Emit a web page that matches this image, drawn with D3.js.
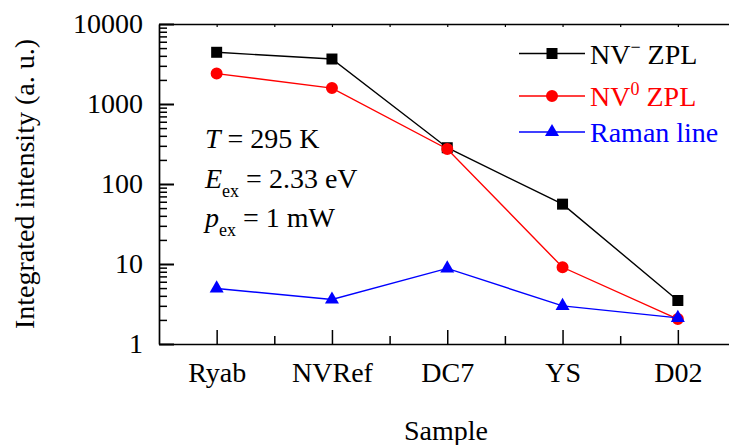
<!DOCTYPE html>
<html>
<head>
<meta charset="utf-8">
<script src="https://cdn.jsdelivr.net/npm/d3@7"></script>
<style>
  body { margin: 0; background: #fff; }
  svg { display: block; }
</style>
</head>
<body>
<div id="chart"></div>
<script>
const samples = ["Ryab", "NVRef", "DC7", "YS", "D02"];
const nvMinus = [4430, 3650, 284, 56, 3.5];
const nvZero = [2400, 1580, 274, 9.1, 2.05];
const raman = [4.95, 3.6, 8.8, 3.0, 2.12];
const yTicks = [1, 10, 100, 1000, 10000];

const FONT = "Liberation Serif, Tinos, Times New Roman, serif";
const FS = "28px";

const series = [
  { name: "NV", sup: "\u2212", rest: " ZPL", values: nvMinus, color: "#000000", symbol: d3.symbolSquare, size: 121 },
  { name: "NV", sup: "0", rest: " ZPL", values: nvZero, color: "#ff0000", symbol: d3.symbolCircle, size: 113 },
  { name: "Raman line", sup: "", rest: "", values: raman, color: "#0000ff", symbol: d3.symbolTriangle, size: 85 },
];

const W = 729, H = 445;
const plot = { left: 159, bottom: 344, top: 24 };
const step = 115.3;

const svg = d3.select("#chart").append("svg")
  .attr("width", W).attr("height", H);

const x = d3.scaleLinear().domain([0.5, 5.5]).range([plot.left, plot.left + 5 * step]);
const y = d3.scaleLog().domain([1, 10000]).range([plot.bottom, plot.top]);

// minor ticks
let minorY = [];
for (let p = 0; p < 4; p++) {
  for (let m = 2; m <= 9; m++) minorY.push(m * Math.pow(10, p));
}
const minorX = [1.5, 2.5, 3.5, 4.5];

// left axis
svg.append("g")
  .attr("transform", `translate(${plot.left},0)`)
  .call(d3.axisLeft(y).tickValues(minorY).tickSizeInner(-8).tickSizeOuter(0).tickFormat(""))
  .call(g => g.select(".domain").remove())
  .selectAll("line").attr("stroke-width", 1.5);

svg.append("g")
  .attr("transform", `translate(${plot.left},0)`)
  .call(d3.axisLeft(y).tickValues(yTicks).tickSizeInner(-15).tickSizeOuter(0)
    .tickPadding(16).tickFormat(d3.format("d")))
  .call(g => g.selectAll("line").attr("stroke-width", 2))
  .call(g => g.select(".domain").attr("stroke-width", 1.7));

// bottom axis
svg.append("g")
  .attr("transform", `translate(0,${plot.bottom})`)
  .call(d3.axisBottom(x).tickValues(minorX).tickSizeInner(-8).tickSizeOuter(0).tickFormat(""))
  .call(g => g.select(".domain").remove())
  .selectAll("line").attr("stroke-width", 1.5);

svg.append("g")
  .attr("transform", `translate(0,${plot.bottom})`)
  .call(d3.axisBottom(x).tickValues([1, 2, 3, 4, 5]).tickSizeInner(-14).tickSizeOuter(0)
    .tickPadding(18).tickFormat((d, i) => samples[i]))
  .call(g => g.selectAll("line").attr("stroke-width", 1.5))
  .call(g => g.select(".domain").attr("stroke-width", 1.7));

// top axis (mirror)
svg.append("g")
  .attr("transform", `translate(0,${plot.top})`)
  .call(d3.axisTop(x).tickValues([1, 1.5, 2, 2.5, 3, 3.5, 4, 4.5, 5]).tickSizeInner(-3)
    .tickSizeOuter(0).tickFormat(""))
  .call(g => g.selectAll("line").attr("stroke-width", 1.2))
  .call(g => g.select(".domain").attr("stroke-width", 1.7));

// axis titles
svg.append("text")
  .attr("transform", "translate(34,184) rotate(-90)")
  .attr("text-anchor", "middle")
  .text("Integrated intensity (a. u.)");

svg.append("text")
  .attr("x", 446).attr("y", 440)
  .attr("text-anchor", "middle")
  .text("Sample");

// series
const line = d3.line()
  .x((d, i) => x(i + 1))
  .y(d => y(d));

series.forEach(s => {
  svg.append("path")
    .datum(s.values)
    .attr("fill", "none")
    .attr("stroke", s.color)
    .attr("stroke-width", 1.4)
    .attr("d", line);
  svg.append("g").selectAll("path")
    .data(s.values)
    .join("path")
    .attr("transform", (d, i) => `translate(${x(i + 1)},${y(d)})`)
    .attr("d", d3.symbol().type(s.symbol).size(s.size))
    .attr("fill", s.color);
});

// legend
const legendY = [53.5, 96, 132];
series.forEach((s, i) => {
  const g = svg.append("g").attr("transform", `translate(0,${legendY[i]})`);
  g.append("line")
    .attr("x1", 519).attr("x2", 585)
    .attr("stroke", s.color).attr("stroke-width", 1.4);
  g.append("path")
    .attr("transform", "translate(552,0)")
    .attr("d", d3.symbol().type(s.symbol).size(s.size))
    .attr("fill", s.color);
  const t = g.append("text")
    .attr("x", 590).attr("y", 10)
    .attr("fill", s.color);
  t.append("tspan").text(s.name);
  if (s.sup) {
    t.append("tspan").attr("class", "small").attr("dy", -11).text(s.sup);
    t.append("tspan").attr("dy", 11).text(s.rest);
  }
});

// annotation
const t1 = svg.append("text").attr("x", 205).attr("y", 148);
t1.append("tspan").style("font-style", "italic").text("T");
t1.append("tspan").text(" = 295 K");

const t2 = svg.append("text").attr("x", 205).attr("y", 188);
t2.append("tspan").style("font-style", "italic").text("E");
t2.append("tspan").attr("class", "small").attr("dy", 9).text("ex");
t2.append("tspan").attr("dy", -9).text(" = 2.33 eV");

const t3 = svg.append("text").attr("x", 205).attr("y", 227);
t3.append("tspan").style("font-style", "italic").text("p");
t3.append("tspan").attr("class", "small").attr("dy", 9).text("ex");
t3.append("tspan").attr("dy", -9).text(" = 1 mW");

// font on every text
svg.selectAll("text")
  .attr("font-family", null)
  .style("font-family", FONT)
  .style("font-size", FS)
  .style("fill", function () { return d3.select(this).attr("fill") || "#000"; });
svg.selectAll("tspan.small").style("font-size", "18px");
svg.selectAll("g").attr("font-family", null).attr("font-size", null);
</script>
</body>
</html>
